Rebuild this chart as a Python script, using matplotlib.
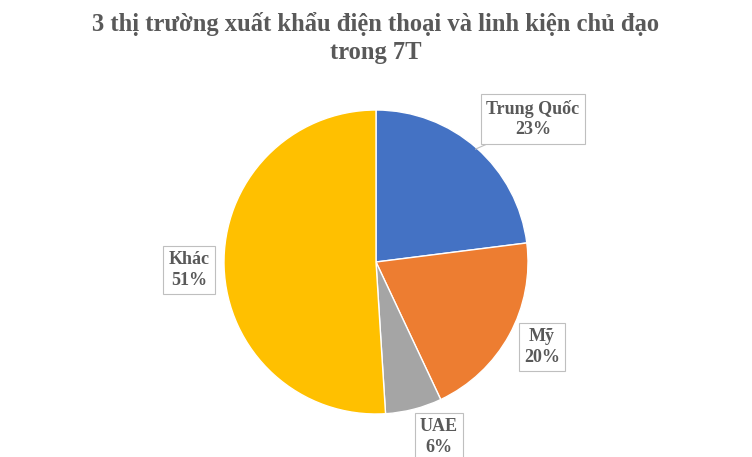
import numpy as np
import matplotlib.pyplot as plt

plt.rcParams['font.family'] = ['Liberation Serif', 'DejaVu Serif']

# data
labels = ['Trung Quốc', 'Mỹ', 'UAE', 'Khác']
shares = [23, 20, 6, 51]
colors = ['#4472C4', '#ED7D31', '#A5A5A5', '#FFC000']
title = '3 thị trường xuất khẩu điện thoại và linh kiện chủ đạo\ntrong 7T'

W, H = 752, 457
fig = plt.figure(figsize=(W / 100, H / 100), dpi=100)

# pie centre / radius in pixels
cx, cy, r = 376, 262, 152
ax = fig.add_axes([(cx - r) / W, (H - cy - r) / H, 2 * r / W, 2 * r / H])
wedges, _ = ax.pie(shares, colors=colors, startangle=90, counterclock=False,
                   radius=1, wedgeprops=dict(edgecolor='white', linewidth=1))
ax.set_xlim(-1, 1)
ax.set_ylim(-1, 1)
ax.set_aspect('equal')
ax.axis('off')

# label positions (pixel coords of box centres)
label_px = [(533, 119), (542, 347), (439, 437), (189, 270)]
txt_color = '#595959'
box = dict(boxstyle='square,pad=0.3', fc='white', ec='#BFBFBF', lw=0.8)

cum = np.cumsum([0] + shares)
for i, (lab, val) in enumerate(zip(labels, shares)):
    px, py = label_px[i]
    tx, ty = (px - cx) / r, (cy - py) / r
    s = f'{lab}\n{val}%'
    if i == 0:
        mid = np.deg2rad(90 - (cum[i] + val / 2) * 3.6)
        ax.annotate(s, xy=(0.99 * np.cos(mid), 0.99 * np.sin(mid)), xytext=(tx, ty),
                    ha='center', va='center', fontsize=13, fontweight='bold',
                    color=txt_color, bbox=box, annotation_clip=False,
                    linespacing=1.25,
                    arrowprops=dict(arrowstyle='-', color='#BFBFBF', lw=0.8,
                                    relpos=(0.15, 0.0), shrinkA=0, shrinkB=0))
    else:
        ax.text(tx, ty, s, ha='center', va='center', fontsize=13,
                fontweight='bold', color=txt_color, bbox=box, clip_on=False,
                linespacing=1.25)

fig.text(0.5, 1 - 38 / H, title, ha='center', va='center', fontsize=17.7,
         fontweight='bold', color=txt_color, linespacing=1.25)

fig.savefig('out.png', dpi=100, facecolor='white')
